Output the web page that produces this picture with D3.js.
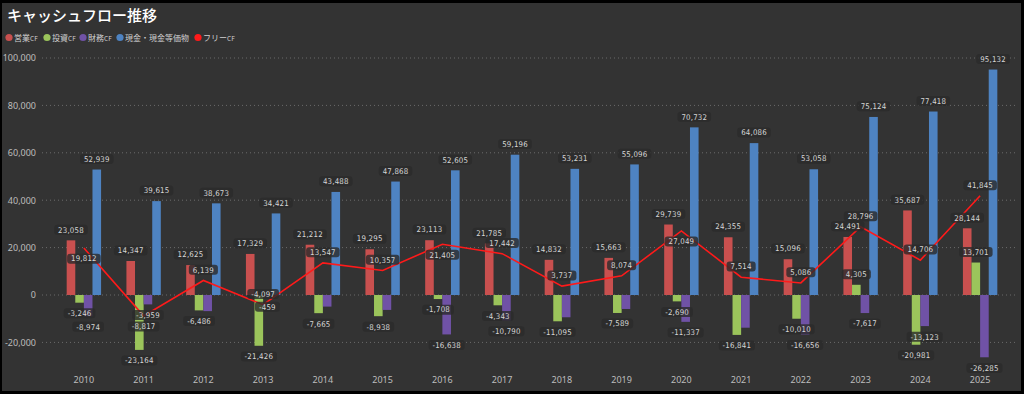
<!DOCTYPE html>
<html>
<head>
<meta charset="utf-8">
<script src="https://cdn.jsdelivr.net/npm/d3@7"></script>
<style>
  body { margin: 0; background: #000; }
  text { font-family: "Noto Sans CJK JP", "Noto Sans", sans-serif; }
  .tick text { fill: #bdbdbd; font-size: 9px; font-family: "Noto Sans", sans-serif; }
  .dl text { font-family: "DejaVu Sans Condensed", "DejaVu Sans", sans-serif; }
</style>
</head>
<body>
<div id="chart"></div>
<script>
// data
var years = ["2010", "2011", "2012", "2013", "2014", "2015", "2016", "2017",
  "2018", "2019", "2020", "2021", "2022", "2023", "2024", "2025"];
var operatingCF = [23058, 14347, 12625, 17329, 21212, 19295, 23113, 21785,
  14832, 15663, 29739, 24355, 15096, 24491, 35687, 28144];
var investingCF = [-3246, -23164, -6486, -21426, -7665, -8938, -1708, -4343,
  -11095, -7589, -2690, -16841, -10010, 4305, -20981, 13701];
var financingCF = [-8974, -3959, -6800, -459, -4900, -6300, -16638, -10790,
  -9400, -5900, -11337, -13800, -16656, -7617, -13123, -26285];
var cashCF = [52939, 39615, 38673, 34421, 43488, 47868, 52605, 59196,
  53231, 55096, 70732, 64086, 53058, 75124, 77418, 95132];
var freeCF = [19812, -8817, 6139, -4097, 13547, 10357, 21405, 17442,
  3737, 8074, 27049, 7514, 5086, 28796, 14706, 41845];
var yTicks = [-20000, 0, 20000, 40000, 60000, 80000, 100000];

var seriesNames = ["営業", "投資", "財務", "現金・現金等価物", "フリー"];
var seriesSuffix = ["CF", "CF", "CF", "", "CF"];
var colors = ["#c9504f", "#9bc45b", "#7052a6", "#4e83c2", "#ff1a1a"];

var svgWidth = 1024;
var svgHeight = 394;

var svg = d3.select("#chart")
  .append("svg")
  .attr("width", svgWidth)
  .attr("height", svgHeight);

// panel
svg.append("rect")
  .attr("x", 2).attr("y", 3)
  .attr("width", 1019).attr("height", 388)
  .attr("fill", "#333333");

// title
svg.append("text")
  .attr("x", 7).attr("y", 21)
  .attr("fill", "#ffffff")
  .style("font-size", "15px")
  .style("font-weight", "500")
  .text("キャッシュフロー推移");

// legend
var legendX = [9, 47, 83, 120, 198];
var legend = svg.append("g");
seriesNames.forEach(function(name, i) {
  var g = legend.append("g").attr("transform", `translate(${legendX[i]}, 37.5)`);
  g.append("circle").attr("r", 3.6).attr("fill", colors[i]);
  var t = g.append("text")
    .attr("x", 5).attr("y", 3)
    .attr("fill", "#d0d0d0")
    .style("font-size", "8px")
    .text(name);
  if (seriesSuffix[i]) {
    t.append("tspan").style("font-size", "6.5px").text(seriesSuffix[i]);
  }
});

// scales
var x0 = d3.scaleBand()
  .domain(years)
  .range([54, 1010])
  .padding(0);

var x1 = d3.scaleBand()
  .domain([0, 1, 2, 3])
  .range([-17.2, 17.2]);

var y = d3.scaleLinear()
  .domain([-20000, 100000])
  .range([342.4, 58]);

var locale = d3.formatLocale({ decimal: ".", thousands: ",", grouping: [3], currency: ["", ""], minus: "-" });
var fmt = locale.format(",");

// grid + y axis
var leftAxis = d3.axisLeft(y)
  .tickValues(yTicks)
  .tickFormat(fmt)
  .tickSize(0)
  .tickPadding(6);

var yAxisG = svg.append("g")
  .attr("transform", "translate(42, 0)")
  .call(leftAxis);
yAxisG.select(".domain").remove();
yAxisG.selectAll(".tick text").attr("dy", "0.32em");

svg.append("g")
  .selectAll("line")
  .data(yTicks)
  .enter()
  .append("line")
  .attr("x1", 42).attr("x2", 1016)
  .attr("y1", d => y(d)).attr("y2", d => y(d))
  .attr("stroke", "#7a7a7a")
  .attr("stroke-width", 0.8)
  .attr("stroke-dasharray", "1,3");

// x axis
var bottomAxis = d3.axisBottom(x0).tickSize(0).tickPadding(0);
var xAxisG = svg.append("g")
  .attr("transform", "translate(0, 380.5)")
  .call(bottomAxis);
xAxisG.select(".domain").remove();
xAxisG.selectAll(".tick text").attr("fill", "#cccccc").attr("dy", "0.32em");

// bars
var barSeries = [operatingCF, investingCF, financingCF, cashCF];
var bw = x1.bandwidth();
var barsG = svg.append("g");
var bars = [];
barSeries.forEach(function(values, s) {
  values.forEach(function(v, i) {
    var cx = x0(years[i]) + x0.bandwidth() / 2 + x1(s);
    var top = Math.min(y(v), y(0));
    var h = Math.abs(y(v) - y(0));
    bars.push({ s: s, i: i, v: v, x: cx, w: bw, top: top, h: h });
  });
});
barsG.selectAll("rect")
  .data(bars)
  .enter()
  .append("rect")
  .attr("x", d => d.x)
  .attr("y", d => d.top)
  .attr("width", d => d.w)
  .attr("height", d => d.h)
  .attr("fill", d => colors[d.s]);

// free cash flow line
var line = d3.line()
  .x((d, i) => x0(years[i]) + x0.bandwidth() / 2)
  .y(d => y(d));

svg.append("path")
  .datum(freeCF)
  .attr("d", line)
  .attr("fill", "none")
  .attr("stroke", colors[4])
  .attr("stroke-width", 1.6);

// data labels
var dl = svg.append("g").attr("class", "dl");
var boxH = 10;
var off = 10.6;
var placed = [];

function measure(str) {
  var t = dl.append("text").style("font-size", "7.8px").text(str);
  var w = t.node().getComputedTextLength();
  t.remove();
  return w + 9;
}
function hits(b) {
  return placed.some(function(p) {
    return !(b.x + b.w / 2 <= p.x - p.w / 2 || b.x - b.w / 2 >= p.x + p.w / 2 ||
      b.y + boxH / 2 <= p.y - boxH / 2 || b.y - boxH / 2 >= p.y + boxH / 2);
  });
}

// priority: operating, cash, investing, financing
[0, 3, 1, 2].forEach(function(s) {
  bars.filter(d => d.s === s).forEach(function(d) {
    var str = fmt(d.v);
    var b = {
      x: d.x + d.w / 2,
      y: d.v >= 0 ? y(d.v) - off : y(d.v) + off,
      w: measure(str),
      str: str
    };
    if (!hits(b)) placed.push(b);
  });
});

freeCF.forEach(function(v, i) {
  var str = fmt(v);
  var cx = x0(years[i]) + x0.bandwidth() / 2;
  var b = { x: cx, y: y(v) - off, w: measure(str), str: str };
  if (hits(b)) b.y = y(v) + off;
  placed.push(b);
});

var lab = dl.selectAll("g")
  .data(placed)
  .enter()
  .append("g")
  .attr("transform", d => `translate(${d.x}, ${d.y})`);

lab.append("rect")
  .attr("x", d => -d.w / 2)
  .attr("y", -boxH / 2)
  .attr("width", d => d.w)
  .attr("height", boxH)
  .attr("rx", 3)
  .attr("fill", "rgba(42,42,42,0.8)");

lab.append("text")
  .attr("text-anchor", "middle")
  .attr("dy", "0.36em")
  .attr("fill", "#d6d6d6")
  .style("font-size", "7.8px")
  .style("letter-spacing", "0.2px")
  .text(d => d.str);
</script>
</body>
</html>
